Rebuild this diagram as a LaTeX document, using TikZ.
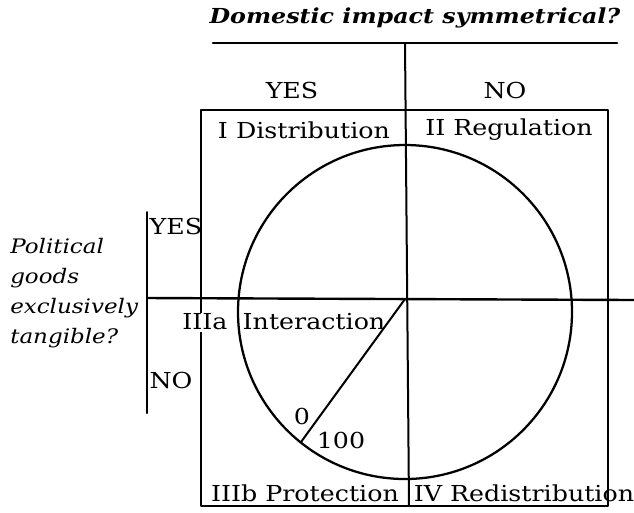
\documentclass[tikz,border=0pt]{standalone}
\usepackage{fontspec}
\setmainfont[FakeStretch=1.15]{DejaVu Serif}
\tikzset{
  quad/.style={font=\fontsize{16.5}{19}\selectfont, inner sep=1pt},
  ask/.style={font=\itshape\fontsize{15}{22.5}\selectfont, align=left, inner sep=0pt},
  rule/.style={line width=1.5pt}
}
\begin{document}
\begin{tikzpicture}[x=0.75pt, y=-0.75pt, line join=round, line cap=round]
  \useasboundingbox (0,0) rectangle (634,512);
  % heading and its rule
  \node[font=\bfseries\itshape\fontsize{15.5}{18}\selectfont] (head) at (415,18) {Domestic impact symmetrical?};
  \draw[line width=2pt] (213,43) -- (617,43);
  \coordinate (O) at (405,299);
  \coordinate (C) at (405,312);
  % box, cross and circle
  \draw[rule] (201,110) rectangle (608,506);
  \draw[rule] (405,43) -- (409,506);
  \draw[line width=1.8pt] (147,298) -- (634,300);
  \draw[rule] (147,212) -- (147,413);
  \draw[line width=1.7pt] (C) circle (167);
  \coordinate (rim) at (301,442);
  \draw[rule] (O) -- (rim);
  % column and row answers
  \node[quad] (yes) at (292,90) {YES};
  \node[quad] (no) at (505,90) {NO};
  \node[quad, right] (yesl) at (148,226) {YES};
  \node[quad, right] (nol) at (148,380) {NO};
  % cells
  \node[quad] (dist) at (304,130) {I Distribution};
  \node[quad] (reg) at (509,130) {II Regulation};
  \node[quad, fill=white] (inta) at (205,322) {IIIa};
  \node[quad] (inter) at (314,322) {Interaction};
  \node[quad] (prot) at (305,493) {IIIb Protection};
  \node[quad] (redis) at (524,493) {IV Redistribution};
  \node[quad] (zero) at (302,416) {0};
  \node[quad] (full) at (341,440) {100};
  % side question
  \node[ask, anchor=north west] (side) at (10,238) {Political\\goods\\exclusively\\tangible?};
\end{tikzpicture}
\end{document}
